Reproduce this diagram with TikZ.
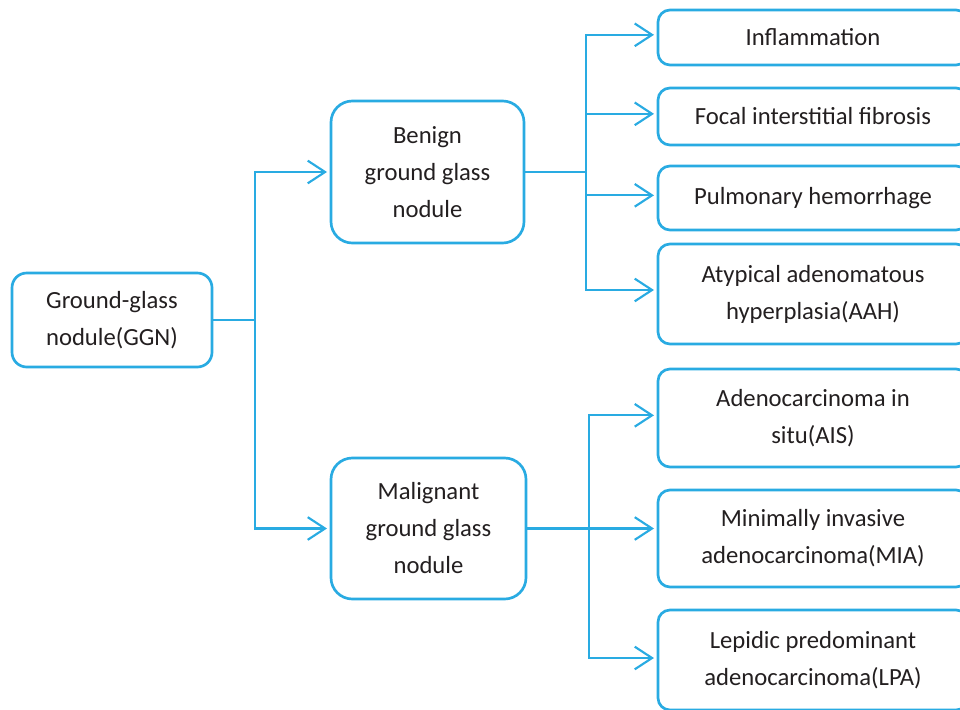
\documentclass[tikz,border=0pt]{standalone}
\usepackage{fontspec}
\setmainfont{Carlito}
\usetikzlibrary{arrows.meta}
\definecolor{lineblue}{RGB}{41,171,226}
\definecolor{txt}{RGB}{35,31,32}
\begin{document}
\begin{tikzpicture}[x=0.75pt,y=-0.75pt,
  box/.style={draw=lineblue,line width=2pt,fill=white,text=txt,align=center,
    font=\fontsize{18.5}{27.75}\selectfont,inner sep=0pt},
  conn/.style={draw=lineblue,line width=1.6pt},
  arr/.style={conn,-{Straight Barb[length=13pt,width=17pt,line width=1.6pt]},shorten >=2pt}]
\useasboundingbox (0,0) rectangle (960,710);
\node[box,rounded corners=11pt,minimum width={200*0.75pt},minimum height={94*0.75pt}] (ggn) at (112,320) {Ground-glass\\nodule(GGN)};
\node[box,rounded corners=16pt,minimum width={193*0.75pt},minimum height={142*0.75pt}] (ben) at (427.5,172) {Benign\\ground glass\\nodule};
\node[box,rounded corners=16pt,minimum width={195*0.75pt},minimum height={141*0.75pt}] (mal) at (428.5,528.5) {Malignant\\ground glass\\nodule};
\tikzset{rbox/.style={box,rounded corners=9pt,minimum width={310*0.75pt}}}
\node[rbox,minimum height={55*0.75pt}] (infl) at (813,37.5) {Inflammation};
\node[rbox,minimum height={57*0.75pt}] (foc) at (813,116.5) {Focal interstitial fibrosis};
\node[rbox,minimum height={64*0.75pt}] (pul) at (813,198) {Pulmonary hemorrhage};
\node[rbox,minimum height={100*0.75pt}] (aah) at (813,294) {Atypical adenomatous\\hyperplasia(AAH)};
\node[rbox,minimum height={98*0.75pt}] (ais) at (813,418) {Adenocarcinoma in\\situ(AIS)};
\node[rbox,minimum height={97*0.75pt}] (mia) at (813,538.5) {Minimally invasive\\adenocarcinoma(MIA)};
\node[rbox,minimum height={100*0.75pt}] (lpa) at (813,660) {Lepidic predominant\\adenocarcinoma(LPA)};
\coordinate (gj) at (255,320);
\coordinate (bj) at (586,172);
\coordinate (mj) at (589,528.5);
\draw[conn] (ggn.east) -- (gj);
\draw[arr] (gj) |- (ben.west);
\draw[arr] (gj) |- (mal.west);
\draw[conn] (ben.east) -- (bj);
\draw[arr] (bj) |- ([yshift=2pt]infl.west);
\draw[arr] (bj) |- ([yshift=2pt]foc.west);
\draw[arr] (bj) |- ([yshift=2pt]pul.west);
\draw[arr] (bj) |- ([yshift=3pt]aah.west);
\draw[conn] (mal.east) -- (mj);
\draw[arr] (mj) |- ([yshift=2pt]ais.west);
\draw[arr] (mj) -- (mj -| mia.west);
\draw[arr] (mj) |- ([yshift=1.5pt]lpa.west);
\end{tikzpicture}
\end{document}
